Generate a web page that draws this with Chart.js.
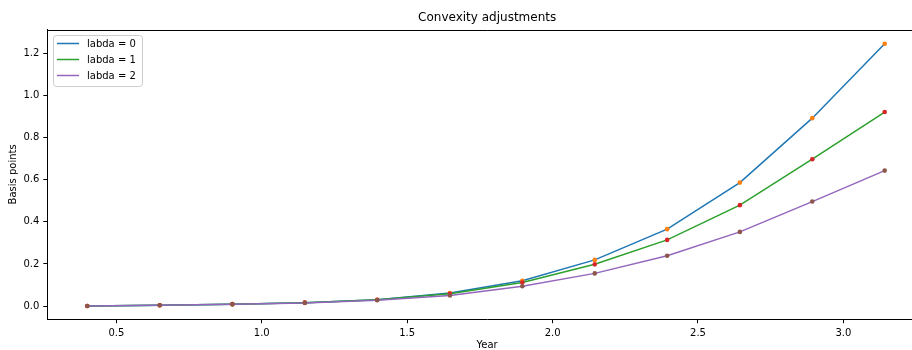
<!DOCTYPE html>
<html>
<head>
<meta charset="utf-8">
<script src="https://cdn.jsdelivr.net/npm/chart.js@4.4.1/dist/chart.umd.min.js"></script>
<style>
  html, body { margin: 0; padding: 0; background: #fff; overflow: hidden; }
  #wrap { width: 912px; height: 350px; overflow: hidden; }
</style>
</head>
<body>
<div id="wrap"><canvas id="convexChart" width="940" height="350"></canvas></div>
<script>
// year fractions of the fixing dates
const years = [0.4, 0.649, 0.899, 1.148, 1.397, 1.647, 1.896, 2.145, 2.394, 2.644, 2.893, 3.142];

// convexity adjustment (basis points) per lambda
const labda0 = [0.0005, 0.004, 0.009, 0.016, 0.030, 0.062, 0.120, 0.219, 0.365, 0.586, 0.892, 1.245];
const labda1 = [0.0005, 0.004, 0.009, 0.016, 0.030, 0.058, 0.112, 0.198, 0.314, 0.479, 0.697, 0.921];
const labda2 = [0.0005, 0.004, 0.008, 0.015, 0.028, 0.050, 0.094, 0.155, 0.239, 0.352, 0.496, 0.643];

const seriesLabels = ['labda = 0', 'labda = 1', 'labda = 2'];
const xTicks = [0.5, 1.0, 1.5, 2.0, 2.5, 3.0];
const yTicks = [0.0, 0.2, 0.4, 0.6, 0.8, 1.0, 1.2];

const lineColors = ['#1f77b4', '#2ca02c', '#9467bd'];
const dotColors = ['#ff7f0e', '#d62728', '#8c564b'];
const FONT = 'DejaVu Sans';

const toPoints = (ys) => years.map((x, i) => ({ x: x, y: ys[i] }));

const datasets = [labda0, labda1, labda2].map((vals, i) => ({
  label: seriesLabels[i],
  data: toPoints(vals),
  borderColor: lineColors[i],
  backgroundColor: lineColors[i],
  borderWidth: 1.5,
  tension: 0,
  pointRadius: 2.3,
  pointBorderWidth: 0,
  pointBackgroundColor: dotColors[i],
  pointHoverRadius: 2.3,
  order: 2 - i   // later series on top, like matplotlib
}));

// matplotlib style legend box inside the axes + top spine
const mplExtras = {
  id: 'mplExtras',
  afterDatasetsDraw(chart) {
    const ctx = chart.ctx;
    const area = chart.chartArea;
    ctx.save();
    // top spine
    ctx.strokeStyle = '#000';
    ctx.lineWidth = 1;
    ctx.beginPath();
    ctx.moveTo(area.left, Math.round(area.top) + 0.5);
    ctx.lineTo(area.right, Math.round(area.top) + 0.5);
    ctx.stroke();

    // legend frame
    const bx = 53.5, by = 35.5, bw = 89, bh = 51, r = 3;
    ctx.fillStyle = 'rgba(255,255,255,0.8)';
    ctx.strokeStyle = '#cccccc';
    ctx.beginPath();
    ctx.roundRect(bx, by, bw, bh, r);
    ctx.fill();
    ctx.stroke();

    ctx.font = '10px "' + FONT + '"';
    ctx.textBaseline = 'middle';
    ctx.textAlign = 'left';
    chart.data.datasets.forEach((ds, i) => {
      const y = 43.5 + i * 16;
      ctx.strokeStyle = ds.borderColor;
      ctx.lineWidth = 1.5;
      ctx.beginPath();
      ctx.moveTo(57, y);
      ctx.lineTo(79, y);
      ctx.stroke();
      ctx.fillStyle = '#000';
      ctx.fillText(ds.label, 87, y + 0.5);
    });
    ctx.restore();
  }
};

const ctx = document.getElementById('convexChart').getContext('2d');
new Chart(ctx, {
  type: 'line',
  data: { datasets: datasets },
  plugins: [mplExtras],
  options: {
    responsive: false,
    animation: false,
    devicePixelRatio: 1,
    layout: { padding: { left: 0, right: 13, top: 0, bottom: 0 } },
    scales: {
      x: {
        type: 'linear',
        min: 0.2625,
        max: 3.2875,
        afterFit: (scale) => { scale.height = 30.8; },
        afterBuildTicks: (scale) => { scale.ticks = xTicks.map(v => ({ value: v })); },
        ticks: {
          callback: (v) => v.toFixed(1),
          font: { family: FONT, size: 10 },
          color: '#000',
          padding: 4.5,
          maxRotation: 0,
          autoSkip: false
        },
        grid: { drawOnChartArea: false, drawTicks: true, tickLength: 4, color: '#000', lineWidth: 1 },
        border: { display: true, color: '#000', width: 1 },
        title: {
          display: true,
          text: 'Year',
          color: '#000',
          font: { family: FONT, size: 10 },
          padding: { top: 0, bottom: -1.5 }
        }
      },
      y: {
        type: 'linear',
        min: -0.0625,
        max: 1.3125,
        afterFit: (scale) => { scale.width = 47.3; },
        afterBuildTicks: (scale) => { scale.ticks = yTicks.map(v => ({ value: v })); },
        ticks: {
          callback: (v) => v.toFixed(1),
          font: { family: FONT, size: 10 },
          color: '#000',
          padding: 4,
          autoSkip: false
        },
        grid: { drawOnChartArea: false, drawTicks: true, tickLength: 4, color: '#000', lineWidth: 1 },
        border: { display: true, color: '#000', width: 1 },
        title: {
          display: true,
          text: 'Basis points',
          color: '#000',
          font: { family: FONT, size: 10 },
          padding: { top: 7, bottom: 0 }
        }
      }
    },
    plugins: {
      legend: { display: false },
      tooltip: { enabled: false },
      title: {
        display: true,
        text: 'Convexity adjustments',
        fullSize: false,
        color: '#000',
        font: { family: FONT, size: 12, weight: 'normal', lineHeight: 1.2 },
        padding: { top: 11, bottom: 4.2 }
      }
    }
  }
});
</script>
</body>
</html>
